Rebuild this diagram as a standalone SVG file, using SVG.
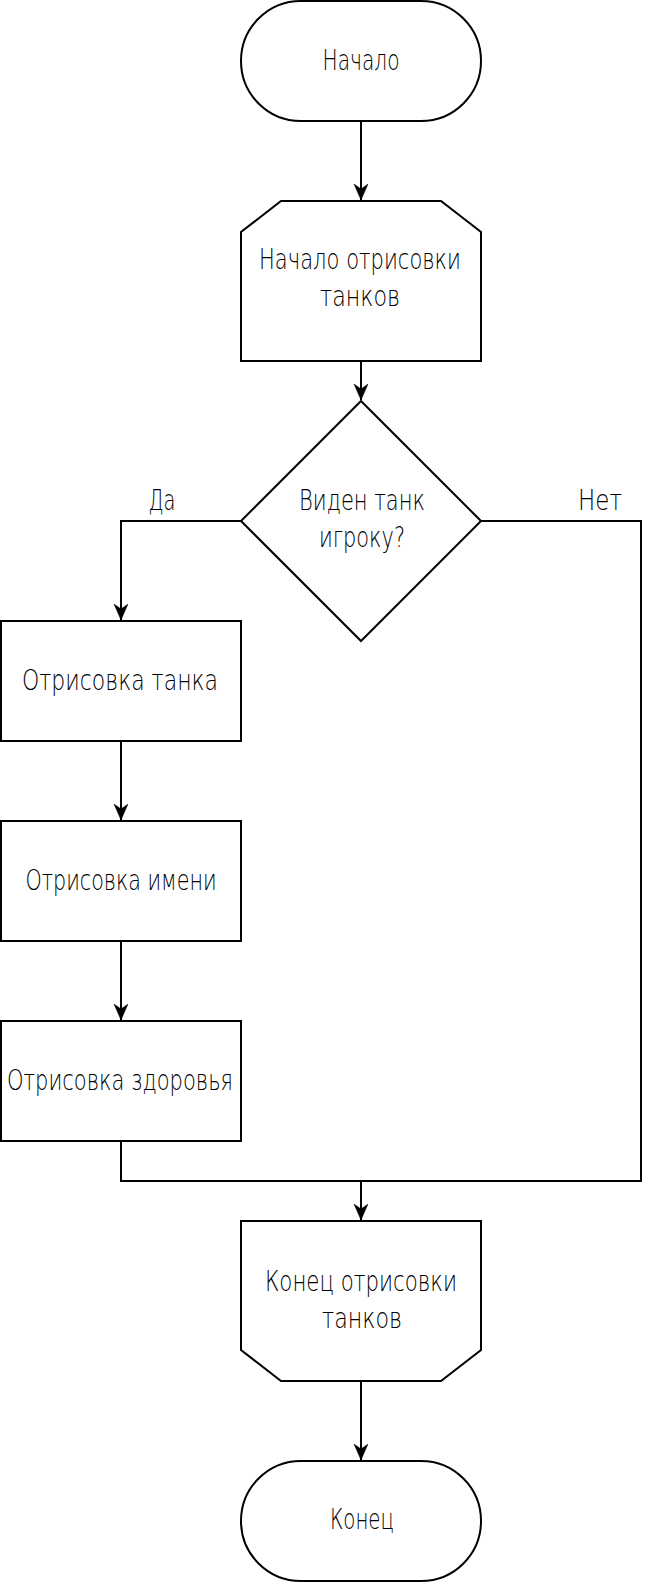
<svg xmlns="http://www.w3.org/2000/svg" width="658" height="1582" viewBox="0 0 658 1582">
<style>
.s{fill:#fff;stroke:#000;stroke-width:2}
.c{fill:none;stroke:#000;stroke-width:2}
text{font-family:"DejaVu Sans","Liberation Sans",sans-serif;font-size:28px;font-weight:200;fill:#000;text-anchor:middle;dominant-baseline:central}
</style>
<defs>
<marker id="a" markerUnits="userSpaceOnUse" markerWidth="18" markerHeight="16" refX="16" refY="7" orient="auto">
<path d="M0,0 L16,7 L0,14 L5,7 Z" fill="#000" stroke="#000" stroke-width="0.5"/>
</marker>
</defs>
<rect width="658" height="1582" fill="#fff"/>
<g id="connectors">
<path class="c" d="M361,121 V200" marker-end="url(#a)"/>
<path class="c" d="M361,361 V400" marker-end="url(#a)"/>
<path class="c" d="M241,521 H121 V620" marker-end="url(#a)"/>
<path class="c" d="M121,741 V820" marker-end="url(#a)"/>
<path class="c" d="M121,941 V1020" marker-end="url(#a)"/>
<path class="c" d="M121,1141 V1181 H361 V1220" marker-end="url(#a)"/>
<path class="c" d="M481,521 H641 V1181 H361"/>
<path class="c" d="M361,1381 V1460" marker-end="url(#a)"/>
<text x="162" y="500" textLength="27" lengthAdjust="spacingAndGlyphs">Да</text>
<text x="600" y="500" textLength="44" lengthAdjust="spacingAndGlyphs">Нет</text>
</g>
<g id="start">
<rect class="s" x="241" y="1" width="240" height="120" rx="60" ry="60"/>
<text x="361" y="60" textLength="77" lengthAdjust="spacingAndGlyphs">Начало</text>
</g>
<g id="loop-start">
<path class="s" d="M281,201 H441 L481,232 V361 H241 V232 Z"/>
<text x="360" y="259" textLength="202" lengthAdjust="spacingAndGlyphs">Начало отрисовки</text>
<text x="360" y="296" textLength="80" lengthAdjust="spacingAndGlyphs">танков</text>
</g>
<g id="decision">
<path class="s" d="M361,401 L481,521 L361,641 L241,521 Z"/>
<text x="362" y="500" textLength="126" lengthAdjust="spacingAndGlyphs">Виден танк</text>
<text x="362" y="537" textLength="86" lengthAdjust="spacingAndGlyphs">игроку?</text>
</g>
<g id="draw-tank">
<rect class="s" x="1" y="621" width="240" height="120"/>
<text x="120" y="680" textLength="196" lengthAdjust="spacingAndGlyphs">Отрисовка танка</text>
</g>
<g id="draw-name">
<rect class="s" x="1" y="821" width="240" height="120"/>
<text x="121" y="880" textLength="191" lengthAdjust="spacingAndGlyphs">Отрисовка имени</text>
</g>
<g id="draw-health">
<rect class="s" x="1" y="1021" width="240" height="120"/>
<text x="120" y="1080" textLength="226" lengthAdjust="spacingAndGlyphs">Отрисовка здоровья</text>
</g>
<g id="loop-end">
<path class="s" d="M241,1221 H481 V1350 L441,1381 H281 L241,1350 Z"/>
<text x="361" y="1281" textLength="192" lengthAdjust="spacingAndGlyphs">Конец отрисовки</text>
<text x="362" y="1318" textLength="80" lengthAdjust="spacingAndGlyphs">танков</text>
</g>
<g id="end">
<rect class="s" x="241" y="1461" width="240" height="120" rx="60" ry="60"/>
<text x="362" y="1519" textLength="64" lengthAdjust="spacingAndGlyphs">Конец</text>
</g>
</svg>
